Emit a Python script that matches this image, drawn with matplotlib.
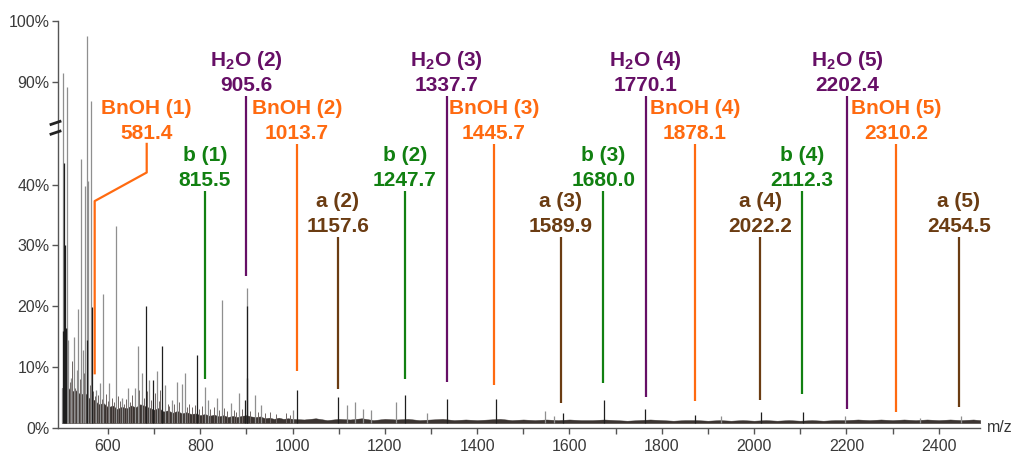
import matplotlib
matplotlib.use('Agg')
import matplotlib.pyplot as plt
import numpy as np

plt.rcParams['font.family'] = ['Liberation Sans', 'DejaVu Sans']
plt.rcParams['mathtext.fontset'] = 'custom'
plt.rcParams['mathtext.rm'] = 'Liberation Sans'
plt.rcParams['mathtext.bf'] = 'Liberation Sans:bold'

# --- spectrum: peaks (m/z, intensity %) ---
light_mz = [500, 503, 510.5, 514, 520, 526, 532, 536, 541.5, 545, 550, 555, 557, 563,
            574, 583, 590, 603, 617, 630, 643, 658.5, 664, 674, 689.5, 705.5, 723.5,
            738, 749, 760, 767, 810, 817, 835.5, 846, 866.5, 884, 900.5, 918.5, 931,
            1001.5, 1117, 1135, 1153, 1169, 1224, 1290.5, 1547, 1566, 1928, 2197,
            2360, 2448]
light_int = [6.6, 91.5, 89.1, 14.5, 8.2, 15.0, 9.5, 19.6, 44.2, 12.8, 39.7, 97.6, 40.6, 86.8,
             6.2, 7.4, 22.0, 7.4, 33.2, 4.9, 6.6, 6.6, 13.4, 9.0, 7.9, 9.3, 7.0,
             4.6, 7.6, 7.2, 9.0, 6.7, 4.6, 5.0, 21.0, 4.1, 5.7, 23.0, 5.4, 3.7,
             2.9, 3.7, 4.3, 3.2, 2.9, 4.3, 2.5, 2.8, 2.0, 2.0, 1.9,
             1.6, 1.9]

dark_mz = [502, 505, 507, 509, 554, 566, 681.5, 698, 716, 792, 897, 900.5, 902,
           1009, 1097.5, 1243.5, 1334, 1441, 1586, 1674, 1764, 1873, 2016, 2105]
dark_int = [16.0, 43.5, 30.0, 16.4, 14.5, 19.9, 20.0, 7.9, 13.4, 12.0, 4.6, 20.0, 8.2,
            6.2, 5.1, 5.4, 4.7, 4.7, 2.5, 4.6, 3.1, 2.1, 2.7, 2.6]

# small grass peaks in the low-mass region
grass_mz = [506, 512, 517, 523, 529, 539, 548, 560, 568, 571, 578, 586, 595, 599,
            608, 612, 622, 626, 635, 639, 648, 652, 668, 678, 685, 694, 702, 710,
            713, 729, 733, 744, 754, 771, 776, 783, 788, 798, 804, 822, 829, 841,
            852, 858, 873, 878, 890, 908, 925, 940, 952, 965, 985, 994]
grass_int = [12.0, 10.5, 7.5, 11.0, 6.5, 8.0, 9.0, 7.0, 6.0, 5.2, 5.5, 4.8, 5.6, 4.5,
             5.0, 4.2, 5.3, 4.4, 4.0, 4.8, 4.3, 5.5, 6.2, 5.0, 6.0, 4.6, 5.8, 4.5,
             6.3, 4.0, 3.6, 3.9, 4.2, 3.5, 4.0, 3.4, 3.8, 3.2, 3.6, 3.1, 3.4, 2.9,
             3.3, 2.8, 3.0, 2.7, 3.1, 2.8, 2.6, 2.5, 2.7, 2.3, 2.4, 2.2]

# baseline noise band (top of dark grass), %
noise_mz = list(np.arange(500, 1001, 10)) + list(range(1025, 2476, 25)) + [2490]
noise_int = [6.5, 7.0, 6.0, 6.2, 5.5, 5.8, 4.8, 4.6, 3.9, 4.1,
             3.4, 3.7, 3.1, 3.5, 3.2, 3.7, 3.4, 3.9, 3.6, 3.3,
             3.0, 3.3, 2.7, 2.9, 2.5, 2.8, 2.4, 2.6, 2.3, 2.4,
             2.1, 2.3, 2.0, 2.2, 1.9, 2.1, 1.8, 2.0, 1.8, 2.0,
             2.1, 1.9, 1.8, 1.9, 1.6, 1.7, 1.5, 1.7, 1.5, 1.6, 1.5,
             1.4, 1.6, 1.3, 1.5, 1.4, 1.6, 1.3, 1.5, 1.4, 1.5,
             1.3, 1.4, 1.5, 1.3, 1.4, 1.3, 1.4, 1.5, 1.3, 1.4,
             1.3, 1.4, 1.3, 1.4, 1.3, 1.3, 1.4, 1.3, 1.2, 1.3,
             1.4, 1.3, 1.2, 1.3, 1.3, 1.2, 1.3, 1.2, 1.3, 1.2,
             1.3, 1.2, 1.3, 1.2, 1.3, 1.2, 1.3, 1.3, 1.4, 1.3,
             1.4, 1.3, 1.4, 1.3, 1.4, 1.3, 1.4, 1.3, 1.4, 1.3]

# --- annotated fragment series ---
h2o_idx = [2, 3, 4, 5]
h2o_vals = ['905.6', '1337.7', '1770.1', '2202.4']
h2o_x = [899, 1334, 1765, 2201]
h2o_bottom = [25.0, 7.6, 5.1, 3.1]

bnoh_idx = [1, 2, 3, 4, 5]
bnoh_vals = ['581.4', '1013.7', '1445.7', '1878.1', '2310.2']
bnoh_x = [683.9, 1009.5, 1436, 1872, 2307.5]
bnoh_bottom = [9.0, 9.4, 7.1, 4.4, 2.6]
bnoh1_path_x = [683.9, 683.9, 571.2, 571.2]
bnoh1_path_y = [46.7, 42.0, 37.3, 9.0]

b_idx = [1, 2, 3, 4]
b_vals = ['815.5', '1247.7', '1680.0', '2112.3']
b_x = [810, 1243.5, 1673.6, 2103.8]
b_bottom = [8.1, 8.1, 7.4, 5.6]

a_idx = [2, 3, 4, 5]
a_vals = ['1157.6', '1589.9', '2022.2', '2454.5']
a_x = [1098.4, 1581.6, 2013.4, 2443.9]
a_bottom = [6.4, 4.1, 4.6, 3.5]

ytick_pct = [0, 10, 20, 30, 40, 90, 100]
xtick_major = [600, 800, 1000, 1200, 1400, 1600, 1800, 2000, 2200, 2400]

PURPLE = '#660f66'
ORANGE = '#ff6a10'
GREEN = '#118011'
BROWN = '#6b3c12'

CUT = 33.1  # amount removed by the axis break (between ~48% and ~81%)


def to_axis(v):
    v = np.asarray(v, dtype=float)
    return np.where(v > 60, v - CUT, v)


fig = plt.figure(figsize=(10.11, 4.55), dpi=100)
ax = fig.add_axes([58 / 1011, 27 / 455, 922 / 1011, 407 / 455])
ax.set_xlim(491.7, 2489.5)
ax.set_ylim(0, 66.9)

floor = 0.8
ax.fill_between(noise_mz, floor, noise_int, color='#3b3431', lw=0.3, zorder=2)
ax.vlines(grass_mz, floor, grass_int, color='#6e6664', lw=0.7, zorder=2.5)
ax.vlines(light_mz, floor, to_axis(light_int), color='#8f8f8f', lw=0.9, zorder=3)
ax.vlines(dark_mz, floor, to_axis(dark_int), color='#1e1e1e', lw=0.9, zorder=4)


def label(x, top, name, val, color):
    ax.annotate(val, (x, top), xytext=(0, 5), textcoords='offset pixels',
                ha='center', va='baseline', color=color, fontsize=15, fontweight='bold')
    ax.annotate(name, (x, top), xytext=(0, 30), textcoords='offset pixels',
                ha='center', va='baseline', color=color, fontsize=15, fontweight='bold')


for i, v, x, bot in zip(h2o_idx, h2o_vals, h2o_x, h2o_bottom):
    ax.plot([x, x], [54.6, bot], color=PURPLE, lw=1.6, solid_capstyle='butt', zorder=5)
    label(x, 54.6, r'H$_\mathbf{2}$O (%d)' % i, v, PURPLE)

for k, (i, v, x, bot) in enumerate(zip(bnoh_idx, bnoh_vals, bnoh_x, bnoh_bottom)):
    if k == 0:
        ax.plot(bnoh1_path_x, bnoh1_path_y, color=ORANGE, lw=1.6, zorder=5)
    else:
        ax.plot([x, x], [46.7, bot], color=ORANGE, lw=1.6, solid_capstyle='butt', zorder=5)
    label(x, 46.7, 'BnOH (%d)' % i, v, ORANGE)

for i, v, x, bot in zip(b_idx, b_vals, b_x, b_bottom):
    ax.plot([x, x], [39.0, bot], color=GREEN, lw=1.6, solid_capstyle='butt', zorder=5)
    label(x, 39.0, 'b (%d)' % i, v, GREEN)

for i, v, x, bot in zip(a_idx, a_vals, a_x, a_bottom):
    ax.plot([x, x], [31.4, bot], color=BROWN, lw=1.6, solid_capstyle='butt', zorder=5)
    label(x, 31.4, 'a (%d)' % i, v, BROWN)

# axes styling
for s in ['top', 'right']:
    ax.spines[s].set_visible(False)
for s in ['left', 'bottom']:
    ax.spines[s].set_color('#555555')
    ax.spines[s].set_linewidth(1.0)

ax.set_yticks(to_axis(ytick_pct))
ax.set_yticklabels(['%d%%' % p for p in ytick_pct])
ax.set_xticks(xtick_major)
ax.set_xticks([700, 900, 1100, 1300, 1500, 1700, 1900, 2100, 2300], minor=True)
ax.tick_params(axis='both', which='both', direction='out', length=4, width=1,
               color='#555555', labelcolor='#3a3a3a', labelsize=11.5)
ax.tick_params(axis='y', pad=2)
ax.tick_params(axis='x', pad=4)

# axis break mark
yt = ax.get_yaxis_transform()
for yb in (48.3, 49.9):
    ax.plot([-0.0076, 0.0022], [yb, yb + 0.5], transform=yt, color='#222222',
            lw=2, clip_on=False, zorder=6)

ax.text(1.0076, 0, 'm/z', transform=ax.transAxes, ha='left', va='center',
        fontsize=11.5, color='#333333')

fig.savefig('out.png', dpi=100)
